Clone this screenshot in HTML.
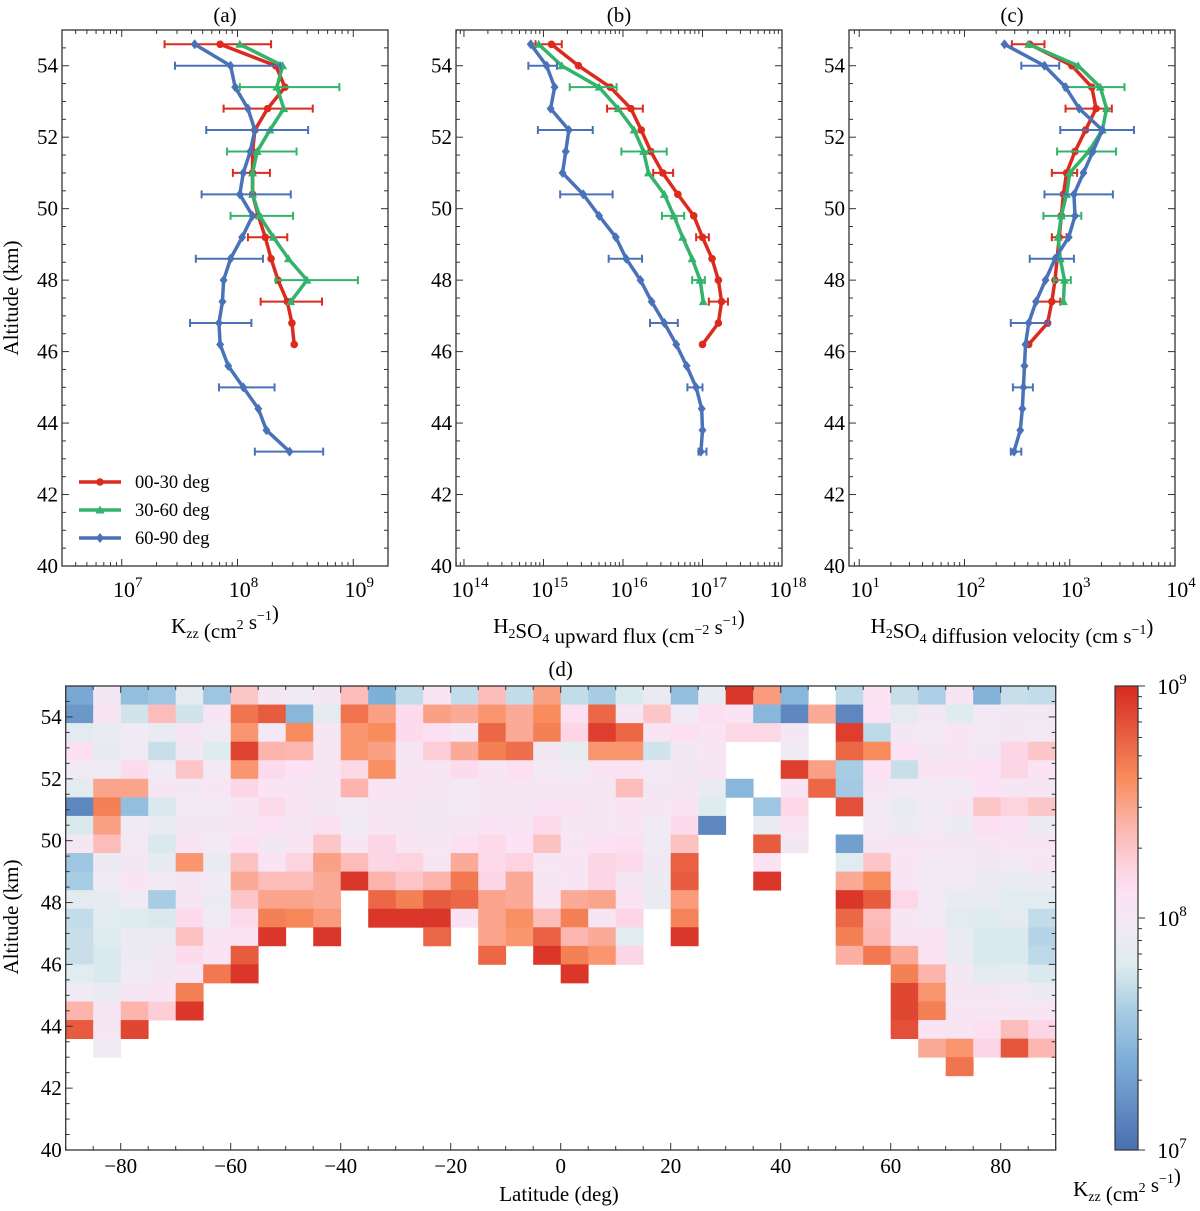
<!DOCTYPE html>
<html><head><meta charset="utf-8"><style>
html,body{margin:0;padding:0;background:#fff;}
svg{display:block;font-family:"Liberation Serif",serif;}
</style></head><body>
<svg id="fig" width="1200" height="1211" viewBox="0 0 1200 1211" xmlns="http://www.w3.org/2000/svg"></svg>
<script>
// ---------- DATA ----------
const altitudes = [54.6,54.0,53.4,52.8,52.2,51.6,51.0,50.4,49.8,49.2,48.6,48.0,47.4,46.8,46.2,45.6,45.0,44.4,43.8,43.2];
// panel (a): log10 Kzz
const kzzRed   = [7.85,8.33,8.41,8.26,8.15,8.13,8.13,8.13,8.18,8.24,8.29,8.35,8.43,8.47,8.49];
const kzzGreen = [8.02,8.39,8.34,8.40,8.28,8.17,8.13,8.13,8.19,8.31,8.44,8.60,8.46];
const kzzBlue  = [7.63,7.94,7.98,8.09,8.15,8.11,8.05,8.02,8.13,8.04,7.94,7.88,7.87,7.84,7.85,7.92,8.05,8.18,8.25,8.45];
const kzzRedErrIdx = [0,3,6,9,12];   const kzzRedLo = [7.37,7.88,7.96,8.09,8.20];   const kzzRedHi = [8.29,8.65,8.28,8.43,8.73];
const kzzGreenErrIdx = [2,5,8,11];   const kzzGreenLo = [8.02,7.91,7.94,8.33];      const kzzGreenHi = [8.88,8.51,8.48,9.04];
const kzzBlueErrIdx = [1,4,7,10,13,16,19]; const kzzBlueLo = [7.46,7.73,7.69,7.64,7.59,7.84,8.15]; const kzzBlueHi = [8.37,8.61,8.46,8.22,8.12,8.32,8.74];
// panel (b): log10 flux
const fluxRed   = [15.10,15.44,15.84,16.10,16.23,16.35,16.50,16.69,16.89,17.00,17.12,17.20,17.24,17.20,17.00];
const fluxGreen = [14.94,15.23,15.70,15.94,16.14,16.26,16.32,16.52,16.64,16.75,16.87,16.97,17.01];
const fluxBlue  = [14.84,15.04,15.14,15.09,15.32,15.28,15.24,15.50,15.70,15.91,16.04,16.22,16.36,16.52,16.67,16.80,16.92,16.99,17.00,16.98];
const fluxRedLo = [14.90,15.80,16.38,16.92,17.08];  const fluxRedHi = [15.23,16.25,16.63,17.08,17.32];
const fluxGreenLo = [15.33,15.98,16.49,16.87];      const fluxGreenHi = [15.92,16.55,16.77,17.03];
const fluxBlueLo = [14.81,14.93,15.21,15.82,16.34,16.81,16.95]; const fluxBlueHi = [15.17,15.62,15.87,16.24,16.69,17.00,17.05];
// panel (c): log10 velocity
const velRed   = [2.62,3.02,3.21,3.25,3.15,3.05,2.97,2.94,2.92,2.90,2.88,2.86,2.83,2.79,2.61];
const velGreen = [2.61,3.08,3.29,3.35,3.31,3.18,3.00,2.97,2.92,2.89,2.91,2.95,2.94];
const velBlue  = [2.38,2.76,2.96,3.09,3.31,3.22,3.13,3.04,3.05,2.99,2.86,2.77,2.68,2.61,2.58,2.57,2.56,2.55,2.53,2.47];
const velRedLo = [2.45,2.96,2.83,2.83,2.68];  const velRedHi = [2.76,3.40,3.07,2.97,2.91];
const velGreenLo = [2.95,2.88,2.75,2.85];     const velGreenHi = [3.52,3.44,3.11,3.01];
const velBlueLo = [2.54,2.91,2.76,2.62,2.44,2.46,2.44]; const velBlueHi = [2.90,3.61,3.41,3.04,2.80,2.65,2.54];
// panel (d): heatmap, log10 Kzz; rows of 0.6 km from 55 km downward, 36 columns of 5 deg from -90
const latEdges0 = -90, latStep = 5, altTop = 55, altStep = 0.6;
const _ = null;
const heatRows = [
[7.35,8.0,7.5,7.55,7.85,7.55,8.3,8.0,7.95,8.0,8.35,7.4,7.7,8.05,7.7,8.35,7.7,8.5, 7.7,7.6,7.78,7.9,7.5,7.88,8.95,8.52,7.45,_,7.68,8.07,7.72,7.62,8.04,7.42,7.72,7.7],
[7.25,8.05,7.75,8.35,7.75,8.05,8.7,8.8,7.45,7.85,8.7,8.5,8.15,8.5,8.45,8.55,8.45,8.6, 8.12,8.75,8.05,8.3,7.95,8.12,8.07,7.45,7.15,8.45,7.15,8.1,7.85,8.0,7.8,7.97,7.98,7.98],
[7.85,7.9,7.95,7.9,8.05,7.95,8.55,7.97,8.6,8.02,8.55,8.6,8.15,8.12,8.02,8.75,8.45,8.65, 8.2,8.92,8.75,8.05,8.12,8.07,8.18,8.18,8.0,_,8.92,7.68,8.0,7.97,8.07,7.97,8.0,7.97],
[8.12,7.87,7.95,7.72,7.98,7.8,8.9,8.4,8.38,8.03,8.55,8.5,8.03,8.25,8.45,8.65,8.72,8.0, 7.88,8.55,8.55,7.75,7.98,8.05,_,_,7.95,_,8.75,8.6,8.1,8.0,8.04,7.98,8.2,8.3],
[7.95,7.95,8.15,7.95,8.3,7.97,8.55,8.15,8.1,8.05,8.18,8.58,8.05,8.05,8.15,8.05,8.12,7.97, 7.95,8.07,8.07,7.97,8.0,8.02,_,_,8.92,8.5,7.6,8.1,7.72,8.07,8.07,8.1,8.2,8.07],
[7.85,8.48,8.48,8.03,8.0,8.05,8.2,8.07,8.04,8.03,8.4,8.07,8.06,8.03,7.97,8.04,8.04,8.02, 8.02,8.02,8.35,8.0,8.02,7.9,7.45,_,8.07,8.75,7.58,8.02,7.97,7.97,7.95,8.1,8.03,8.03],
[7.15,8.65,7.5,7.78,7.97,7.97,8.04,8.17,8.04,8.0,7.96,8.02,8.02,8.0,7.97,8.02,8.02,8.08, 8.07,8.03,8.07,8.03,8.07,7.8,_,7.55,8.18,_,8.85,7.97,7.9,7.95,8.02,8.3,8.22,8.3],
[7.78,8.5,7.95,7.9,8.0,8.0,8.03,8.1,8.03,8.12,7.95,8.04,8.02,8.0,8.02,8.08,8.05,8.17, 8.02,8.03,8.05,7.95,8.15,7.15,_,7.9,8.07,_,_,7.97,7.92,7.97,7.92,8.12,8.08,7.92],
[8.0,8.35,7.97,7.78,8.07,7.97,8.12,7.98,8.06,8.3,8.05,8.2,8.06,8.02,8.12,8.17,8.1,8.32, 8.05,8.1,8.12,7.95,8.32,_,_,8.8,8.0,_,7.3,8.05,8.05,8.02,8.0,8.02,8.06,8.04],
[7.55,7.92,8.0,7.87,8.55,7.9,8.32,8.07,8.22,8.5,8.35,8.2,8.22,8.05,8.45,8.17,8.22,8.05, 8.05,8.2,8.17,7.98,8.78,_,_,8.07,_,_,7.82,8.3,8.05,7.97,7.97,8.0,7.97,8.05],
[7.6,7.95,8.07,7.97,8.02,7.95,8.45,8.35,8.35,8.45,8.95,8.4,8.3,8.4,8.68,8.2,8.45,8.03, 8.05,8.2,8.02,7.92,8.8,_,_,8.95,_,_,8.45,8.6,8.06,7.97,7.97,7.92,7.88,7.92],
[7.85,7.87,7.95,7.6,8.02,7.92,8.3,8.48,8.48,8.45,_,8.75,8.65,8.8,8.75,8.48,8.45,8.07, 8.45,8.48,8.07,7.9,8.52,_,_,_,_,_,8.95,8.8,8.18,7.97,7.9,7.88,7.82,7.82],
[7.7,7.82,7.8,7.78,8.15,7.95,8.17,8.65,8.62,8.52,_,8.95,8.95,8.95,8.07,8.48,8.58,8.35, 8.65,8.05,8.2,_,8.63,_,_,_,_,_,8.75,8.35,8.03,7.97,7.85,7.8,7.85,7.7],
[7.72,7.8,7.92,7.9,8.32,8.06,8.07,8.95,_,8.95,_,_,_,8.75,_,8.48,8.55,8.78, 8.38,8.45,7.82,_,8.95,_,_,_,_,_,8.65,8.38,8.05,8.07,7.88,7.78,7.78,7.65],
[7.72,7.78,7.92,7.98,8.15,8.07,8.8,_,_,_,_,_,_,_,_,8.75,_,8.95, 8.65,8.55,8.2,_,_,_,_,_,_,_,8.42,8.68,8.45,8.07,7.9,7.78,7.78,7.68],
[7.82,7.78,7.95,8.0,8.05,8.68,8.95,_,_,_,_,_,_,_,_,_,_,_, 8.95,_,_,_,_,_,_,_,_,_,_,_,8.65,8.4,8.0,7.85,7.87,7.78],
[7.95,7.9,8.03,8.07,8.65,_,_,_,_,_,_,_,_,_,_,_,_,_, _,_,_,_,_,_,_,_,_,_,_,_,8.88,8.55,8.02,8.02,7.97,7.93],
[8.4,8.03,8.4,8.25,8.95,_,_,_,_,_,_,_,_,_,_,_,_,_, _,_,_,_,_,_,_,_,_,_,_,_,8.88,8.65,8.05,8.05,8.05,8.05],
[8.8,8.02,8.88,_,_,_,_,_,_,_,_,_,_,_,_,_,_,_, _,_,_,_,_,_,_,_,_,_,_,_,8.85,8.07,8.05,8.12,8.35,8.2],
[_,7.95,_,_,_,_,_,_,_,_,_,_,_,_,_,_,_,_, _,_,_,_,_,_,_,_,_,_,_,_,_,8.45,8.55,8.2,8.82,8.38],
[_,_,_,_,_,_,_,_,_,_,_,_,_,_,_,_,_,_, _,_,_,_,_,_,_,_,_,_,_,_,_,_,8.7,_,_,_]
];
const latTicks = [-80,-60,-40,-20,0,20,40,60,80];
const altTicks = [40,42,44,46,48,50,52,54];
const legendLabels = ['00-30 deg','30-60 deg','60-90 deg'];

// ---------- HELPERS ----------
const NS='http://www.w3.org/2000/svg';
const svg=document.getElementById('fig');
function mk(tag,attrs,parent){const e=document.createElementNS(NS,tag);for(const k in attrs)e.setAttribute(k,attrs[k]);(parent||svg).appendChild(e);return e;}
const RED='#dc2a1f', GREEN='#33b36b', BLUE='#4a72b8';
const cmapStops=[[7.0,[74,111,176]],[7.4,[127,176,216]],[7.6,[168,204,228]],[7.8,[222,236,238]],[7.95,[240,234,244]],[8.1,[252,226,244]],[8.2,[252,214,228]],[8.4,[252,180,172]],[8.6,[248,140,92]],[9.0,[214,42,34]]];
function cmap(v){v=Math.max(7,Math.min(9,v));for(let i=0;i<cmapStops.length-1;i++){const a=cmapStops[i],b=cmapStops[i+1];if(v<=b[0]){const t=(v-a[0])/(b[0]-a[0]);const c=a[1].map((x,j)=>Math.round(x+(b[1][j]-x)*t));return 'rgb('+c.join(',')+')';}}return 'rgb(214,42,34)';}
function pow10Label(g,x,y,exp,name){const t=mk('text',{x:x,y:y,'font-size':22,'text-anchor':'middle'},g);t.appendChild(document.createTextNode('10'));const s=mk('tspan',{dy:-10,'font-size':15},t);s.textContent=String(exp);return t;}

// ---------- TOP PANELS ----------
const TOP=30, BOT=566, yAlt=a=>BOT-(a-40)*(BOT-TOP)/15;
function panel(cfg){
  const g=mk('g',{});
  
  
  const L=cfg.L,R=cfg.R;
  const xs=v=>L+(v-cfg.xmin)*(R-L)/(cfg.xmax-cfg.xmin);
  for(let d=Math.floor(cfg.xmin);d<=Math.ceil(cfg.xmax);d++){
    for(let m=1;m<10;m++){const v=d+Math.log10(m);if(v<cfg.xmin-1e-6||v>cfg.xmax+1e-6)continue;const x=xs(v),len=m===1?7:4;
      mk('line',{x1:x,y1:BOT,x2:x,y2:BOT-len,stroke:'#333','stroke-width':1},g);mk('line',{x1:x,y1:TOP,x2:x,y2:TOP+len,stroke:'#333','stroke-width':1},g);}
    if(d>=cfg.xmin-1e-6&&d<=cfg.xmax+1e-6) pow10Label(g,xs(d)+6,597,d,'x-tick-label');
  }
  for(let a=40;a<=55;a+=0.5){const y=yAlt(a),len=(a%2===0)?7:4;
    mk('line',{x1:L,y1:y,x2:L+len,y2:y,stroke:'#333','stroke-width':1},g);mk('line',{x1:R,y1:y,x2:R-len,y2:y,stroke:'#333','stroke-width':1},g);}
  altTicks.forEach(a=>{const t=mk('text',{x:L-4,y:yAlt(a)+7,'font-size':21,'text-anchor':'end'},g);t.textContent=a;
    
    });
  const f=mk('rect',{x:L,y:TOP,width:R-L,height:BOT-TOP,fill:'none',stroke:'#333','stroke-width':1.3},g);
  
  
  const ti=mk('text',{x:(L+R)/2,y:22,'font-size':21,'text-anchor':'middle'},g);ti.textContent=cfg.title;
  
  
  cfg.series.forEach(s=>{
    const sg=mk('g',{},g);
    
    
    s.idx.forEach((k,j)=>{const y=yAlt(altitudes[k]);const x1=xs(s.lo[j]),x2=xs(s.hi[j]);
      const eb=mk('path',{d:`M${x1},${y}H${x2}M${x1},${y-4}V${y+4}M${x2},${y-4}V${y+4}`,stroke:s.color,'stroke-width':2,fill:'none'},sg);
      
      });
    const pts=s.vals.map((v,i)=>[xs(v),yAlt(altitudes[i])]);
    const ln=mk('polyline',{points:pts.map(p=>p.join(',')).join(' '),stroke:s.color,'stroke-width':3.5,fill:'none','stroke-linejoin':'round'},sg);
    
    
    pts.forEach(p=>{let m;
      if(s.marker==='o')m=mk('circle',{cx:p[0],cy:p[1],r:3.8,fill:s.color},sg);
      else if(s.marker==='^')m=mk('path',{d:`M${p[0]},${p[1]-4.5}L${p[0]+4.5},${p[1]+3.5}L${p[0]-4.5},${p[1]+3.5}Z`,fill:s.color},sg);
      else m=mk('path',{d:`M${p[0]},${p[1]-5}L${p[0]+4},${p[1]}L${p[0]},${p[1]+5}L${p[0]-4},${p[1]}Z`,fill:s.color},sg);
      
      });
  });
  return {g,xs};
}
panel({name:'panel-a-kzz',title:'(a)',L:62,R:388,xmin:6.484,xmax:9.30,series:[
  {name:'series-00-30',color:RED,marker:'o',vals:kzzRed,idx:kzzRedErrIdx,lo:kzzRedLo,hi:kzzRedHi},
  {name:'series-30-60',color:GREEN,marker:'^',vals:kzzGreen,idx:kzzGreenErrIdx,lo:kzzGreenLo,hi:kzzGreenHi},
  {name:'series-60-90',color:BLUE,marker:'d',vals:kzzBlue,idx:kzzBlueErrIdx,lo:kzzBlueLo,hi:kzzBlueHi}]});
panel({name:'panel-b-flux',title:'(b)',L:456,R:782,xmin:13.90,xmax:18.0,series:[
  {name:'series-00-30',color:RED,marker:'o',vals:fluxRed,idx:kzzRedErrIdx,lo:fluxRedLo,hi:fluxRedHi},
  {name:'series-30-60',color:GREEN,marker:'^',vals:fluxGreen,idx:kzzGreenErrIdx,lo:fluxGreenLo,hi:fluxGreenHi},
  {name:'series-60-90',color:BLUE,marker:'d',vals:fluxBlue,idx:kzzBlueErrIdx,lo:fluxBlueLo,hi:fluxBlueHi}]});
panel({name:'panel-c-velocity',title:'(c)',L:849,R:1175,xmin:0.903,xmax:4.0,series:[
  {name:'series-00-30',color:RED,marker:'o',vals:velRed,idx:kzzRedErrIdx,lo:velRedLo,hi:velRedHi},
  {name:'series-30-60',color:GREEN,marker:'^',vals:velGreen,idx:kzzGreenErrIdx,lo:velGreenLo,hi:velGreenHi},
  {name:'series-60-90',color:BLUE,marker:'d',vals:velBlue,idx:kzzBlueErrIdx,lo:velBlueLo,hi:velBlueHi}]});

// legend
const lg=mk('g',{});


[[RED,'o'],[GREEN,'^'],[BLUE,'d']].forEach((c,i)=>{const y=482+i*28;
  const e=mk('g',{},lg);
  
  
  mk('line',{x1:79,y1:y,x2:121,y2:y,stroke:c[0],'stroke-width':3.5},e);
  if(c[1]==='o')mk('circle',{cx:100,cy:y,r:3.8,fill:c[0]},e);
  else if(c[1]==='^')mk('path',{d:`M100,${y-4.5}L104.5,${y+3.5}L95.5,${y+3.5}Z`,fill:c[0]},e);
  else mk('path',{d:`M100,${y-5}L104,${y}L100,${y+5}L96,${y}Z`,fill:c[0]},e);
  const t=mk('text',{x:135,y:y+6,'font-size':18.5},e);t.textContent=legendLabels[i];});

function richLabel(x,y,parts,name,rot){const t=mk('text',{x:x,y:y,'font-size':21,'text-anchor':'middle'});if(rot)t.setAttribute('transform',`rotate(-90 ${x} ${y})`);
  
  
  parts.forEach(p=>{const s=mk('tspan',{},t);if(p[1]==='sub'){s.setAttribute('font-size',14);s.setAttribute('dy',5);}else if(p[1]==='sup'){s.setAttribute('font-size',14);s.setAttribute('dy',-9);}
    s.textContent=p[0];if(p[1]){const r=mk('tspan',{dy:p[1]==='sub'?-5:9},t);r.textContent='';}});return t;}
richLabel(225,633,[['K'],['zz','sub'],[' (cm'],['2','sup'],[' s'],['−1','sup'],[')']],'x-axis-title-a');
richLabel(619,633,[['H'],['2','sub'],['SO'],['4','sub'],[' upward flux (cm'],['−2','sup'],[' s'],['−1','sup'],[')']],'x-axis-title-b');
richLabel(1012,633,[['H'],['2','sub'],['SO'],['4','sub'],[' diffusion velocity (cm s'],['−1','sup'],[')']],'x-axis-title-c');
richLabel(18,298,[['Altitude (km)']],'y-axis-title-top',true);
richLabel(18,917,[['Altitude (km)']],'y-axis-title-bottom',true);

// ---------- HEATMAP ----------
const DL=65.7, DR=1055.7, DT=686, DB=1150;
const xLat=v=>DL+(v+90)*(DR-DL)/180, yA=a=>DB-(a-40)*(DB-DT)/15;
const hg=mk('g',{});


heatRows.forEach((row,r)=>row.forEach((v,c)=>{if(v===null)return;
  const x0=xLat(latEdges0+c*latStep),x1=xLat(latEdges0+(c+1)*latStep),y0=yA(altTop-r*altStep),y1=yA(altTop-(r+1)*altStep);
  const cell=mk('rect',{x:x0,y:y0,width:x1-x0+0.4,height:y1-y0+0.4,fill:cmap(v)},hg);
  
  }));
for(let v=-90;v<=90;v+=5){const x=xLat(v),len=(v%20===0)?7:4;
  mk('line',{x1:x,y1:DB,x2:x,y2:DB-len,stroke:'#333'},hg);mk('line',{x1:x,y1:DT,x2:x,y2:DT+len,stroke:'#333'},hg);}
latTicks.forEach(v=>{const t=mk('text',{x:xLat(v),y:1173,'font-size':21,'text-anchor':'middle'},hg);t.textContent=v<0?'−'+(-v):String(v);
  
  });
for(let a=40;a<=55;a+=0.5){const y=yA(a),len=(a%2===0)?7:4;
  mk('line',{x1:DL,y1:y,x2:DL+len,y2:y,stroke:'#333'},hg);mk('line',{x1:DR,y1:y,x2:DR-len,y2:y,stroke:'#333'},hg);}
altTicks.forEach(a=>{const t=mk('text',{x:DL-4,y:yA(a)+7,'font-size':21,'text-anchor':'end'},hg);t.textContent=a;
  
  });
mk('rect',{x:DL,y:DT,width:DR-DL,height:DB-DT,fill:'none',stroke:'#333','stroke-width':1.3},hg);
const td=mk('text',{x:(DL+DR)/2,y:676,'font-size':21,'text-anchor':'middle'});td.textContent='(d)';


richLabel(559,1201,[['Latitude (deg)']],'x-axis-title-d');

// ---------- COLORBAR ----------
const CL=1115, CR=1138, CT=686, CB=1150;
const defs=mk('defs',{});
const grad=mk('linearGradient',{id:'cb',x1:0,y1:1,x2:0,y2:0},defs);
cmapStops.forEach(s=>mk('stop',{offset:((s[0]-7)/2*100)+'%','stop-color':'rgb('+s[1].join(',')+')'},grad));
const cbg=mk('g',{});


mk('rect',{x:CL,y:CT,width:CR-CL,height:CB-CT,fill:'url(#cb)',stroke:'#333','stroke-width':1.2},cbg);
const yC=v=>CB-(v-7)*(CB-CT)/2;
for(let d=7;d<=9;d++){for(let m=1;m<10;m++){const v=d+Math.log10(m);if(v>9.0001)continue;const y=yC(v);mk('line',{x1:CR,y1:y,x2:CR+(m===1?7:4),y2:y,stroke:'#333'},cbg);}
  pow10Label(cbg,CR+34,yC(d)+8,d,'colorbar-tick-label');}
richLabel(1127,1196,[['K'],['zz','sub'],[' (cm'],['2','sup'],[' s'],['−1','sup'],[')']],'colorbar-title');
</script>
</body></html>
